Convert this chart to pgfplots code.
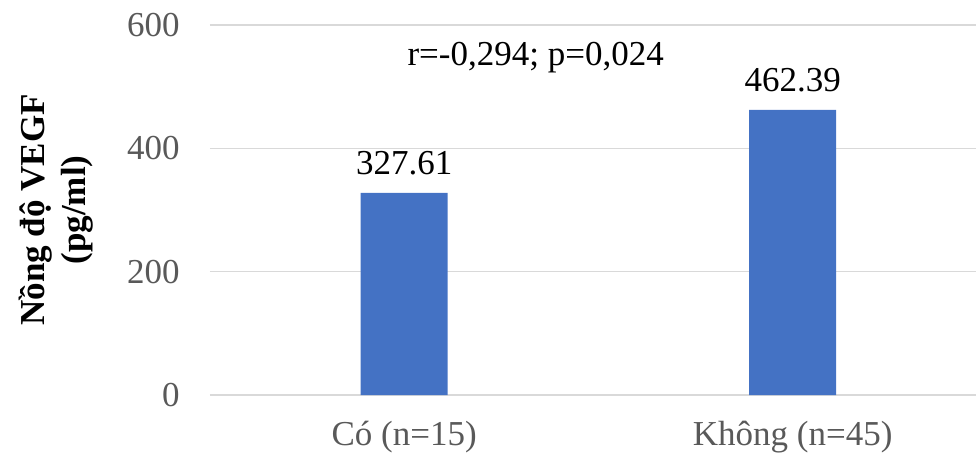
\documentclass[border=0pt]{standalone}
\usepackage{fontspec}
\setmainfont{Liberation Serif}
\usepackage{pgfplots}
\pgfplotsset{compat=1.18}

\definecolor{barblue}{HTML}{4472C4}
\definecolor{gridgray}{HTML}{D9D9D9}
\definecolor{ticktext}{HTML}{595959}

\begin{document}
\begin{tikzpicture}
\path[use as bounding box] (0,0) rectangle (488pt,228pt);
\begin{axis}[
  at={(105pt,30.5pt)}, anchor=south west,
  scale only axis,
  width=383pt, height=185pt,
  xmin=-0.5, xmax=1.472,
  ymin=0, ymax=600,
  clip=false,
  axis line style={draw=none},
  major tick length=0pt,
  xtick={0,1},
  xticklabels={{Có (n=15)},{Không (n=45)}},
  ytick={0,200,400,600},
  ymajorgrids,
  grid style={gridgray, line width=0.6pt},
  /pgf/number format/assume math mode=true,
  tick label style={font=\fontsize{17.5}{20}\selectfont, text=ticktext},
  yticklabel style={anchor=east, inner sep=0pt, xshift=-15pt},
  xticklabel style={anchor=base, inner sep=0pt, yshift=-25pt},
  ylabel={Nồng độ VEGF\\(pg/ml)},
  ylabel style={at={(axis description cs:-0.201,0.5)}, anchor=center,
    align=center, font=\fontsize{17.5}{20.5}\selectfont\bfseries},
  nodes near coords,
  nodes near coords style={anchor=base, yshift=9pt, text=black,
    font=\fontsize{17.5}{20}\selectfont,
    /pgf/number format/.cd, fixed, precision=2, fixed zerofill,
    assume math mode=true},
]
\addplot[ybar, bar width=43.5pt, fill=barblue, draw=none]
  coordinates {(0,327.61) (1,462.39)};
\node[anchor=base, font=\fontsize{17.5}{20}\selectfont]
  at (axis cs:0.3385,535) {r=-0,294; p=0,024};
\end{axis}
\end{tikzpicture}
\end{document}
